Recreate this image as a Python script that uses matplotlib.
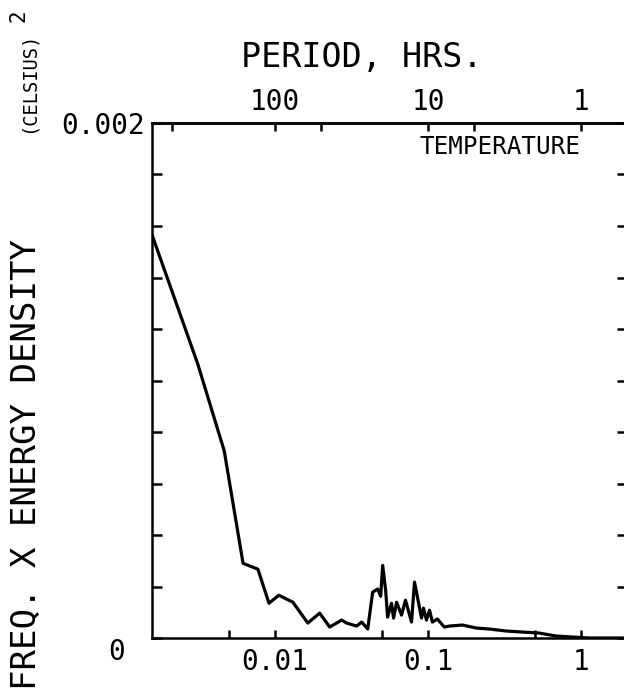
import matplotlib
matplotlib.use('Agg')
import matplotlib.pyplot as plt
import numpy as np
from matplotlib.ticker import NullLocator

# frequency (cycles/hr) and freq x energy density (celsius^2)
freq = [0.00157, 0.00313, 0.00466, 0.00619, 0.00774, 0.00914, 0.0106, 0.0131,
        0.0164, 0.0196, 0.0228, 0.0273, 0.0294, 0.0342, 0.0369, 0.0404,
        0.0435, 0.0469, 0.0491, 0.0506, 0.0529, 0.0545, 0.0578, 0.0596,
        0.0624, 0.0672, 0.0713, 0.0781, 0.0817, 0.0908, 0.0935, 0.0978,
        0.1024, 0.107, 0.1153, 0.128, 0.138, 0.168, 0.207, 0.252, 0.325,
        0.413, 0.532, 0.687, 0.873, 1.13, 2.0]
density = [0.001567, 0.001064, 0.000727, 0.000290, 0.000267, 0.000135, 0.000166,
           0.000139, 0.000058, 0.0000967, 0.0000425, 0.0000696, 0.000058,
           0.0000464, 0.0000619, 0.0000348, 0.000178, 0.000190, 0.000162,
           0.000282, 0.000186, 0.0000812, 0.000135, 0.0000774, 0.000139,
           0.000089, 0.000147, 0.0000619, 0.000217, 0.0000774, 0.000116,
           0.0000696, 0.000108, 0.0000619, 0.0000735, 0.0000425, 0.0000464,
           0.0000503, 0.0000387, 0.0000348, 0.0000271, 0.0000232, 0.0000193,
           0.0000077, 0.0000039, 0.0, 0.0]

freq_ticks = [0.005, 0.01, 0.05, 0.1, 0.5, 1]
freq_labels = ['', '0.01', '', '0.1', '', '1']
period_ticks = [470, 100, 50, 10, 5, 1]
period_labels = ['', '100', '', '10', '', '1']
y_ticks = [0.0002 * i for i in range(11)]
y_labels = [''] * 10 + ['0.002']

plt.rcParams['font.family'] = 'DejaVu Sans Mono'

fig = plt.figure(figsize=(6.24, 6.91), dpi=100)
ax = fig.add_axes([151.6 / 624, 53 / 691, (627 - 151.6) / 624, (638 - 123) / 691])
ax.plot(freq, density, color='black', lw=2.3, solid_joinstyle='round')

ax.set_xscale('log')
ax.set_xlim(1 / 640, 2)
ax.set_ylim(0, 0.002)
for s in ax.spines.values():
    s.set_linewidth(1.8)

ax.set_xticks(freq_ticks, freq_labels)
ax.xaxis.set_minor_locator(NullLocator())
ax.set_yticks(y_ticks, y_labels)
ax.tick_params(axis='both', direction='in', length=7, width=1.8, labelsize=20)
ax.tick_params(axis='x', length=6, pad=7)
ax.tick_params(axis='y', right=True, pad=5)
ax.annotate('0', xy=(0, 0), xycoords=('axes fraction', 'data'),
            xytext=(-25, -10), textcoords='offset points',
            ha='center', va='center', fontsize=20)


def one_over(x):
    x = np.asarray(x, dtype=float)
    with np.errstate(divide='ignore'):
        return 1.0 / x


top = ax.secondary_xaxis('top', functions=(one_over, one_over))
top.set_xticks(period_ticks, period_labels)
top.xaxis.set_minor_locator(NullLocator())
top.tick_params(direction='in', length=6, width=1.8, labelsize=20, pad=5)
top.spines['top'].set_linewidth(1.8)

fig.text(362 / 624, 1 - 58 / 691, 'PERIOD, HRS.', ha='center', va='center', fontsize=24)
fig.text(500 / 624, 1 - 147 / 691, 'TEMPERATURE', ha='center', va='center', fontsize=17.5)

fig.text(27 / 624, 0.002, 'FREQ. X ENERGY DENSITY', rotation=90,
         ha='center', va='bottom', fontsize=24.5)
fig.text(28 / 624, 1 - 82 / 691, '(CELSIUS)', rotation=90,
         ha='center', va='center', fontsize=13.5)
fig.text(19 / 624, 1 - 16 / 691, '2', rotation=90,
         ha='center', va='center', fontsize=15)

fig.savefig('out.png', dpi=100)
